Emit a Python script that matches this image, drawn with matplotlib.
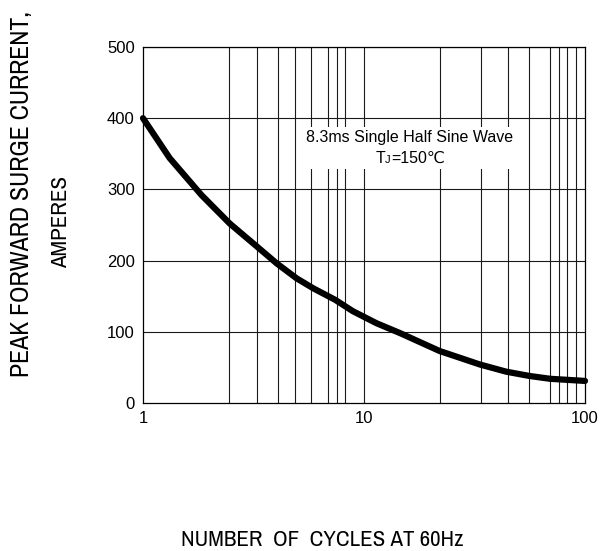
import matplotlib
matplotlib.use("Agg")
import matplotlib.pyplot as plt
from matplotlib.offsetbox import TextArea, HPacker, VPacker, AnnotationBbox

# ---- data ----
cycles = [1, 1.32, 1.84, 2.47, 3.27, 4.03, 4.96, 5.9, 7.4, 8.9, 11.4, 14.6, 22, 33.5, 44, 56, 69.5, 100]
current = [400, 344, 292, 252, 220, 196, 175, 161, 145, 129, 112, 98, 73, 54, 44, 38, 34, 31]
x_ticks = [1, 10, 100]
x_tick_labels = ["1", "10", "100"]
y_ticks = [0, 100, 200, 300, 400, 500]
grid_cycles = [2.45, 3.28, 4.08, 4.87, 5.75, 6.87, 7.55, 8.2,
               22, 33.8, 44.8, 55.8, 69.5, 76.3, 82.9, 91]

FAM = ["Liberation Sans", "DejaVu Sans"]
NARROW = ["Archivo Narrow", "Liberation Sans", "DejaVu Sans"]
plt.rcParams["font.family"] = FAM

fig = plt.figure(figsize=(6.03, 5.51), dpi=100)
ax = fig.add_axes([143 / 603, 1 - 403 / 551, 442 / 603, 356 / 551])
ax.set_xscale("log")
ax.set_xlim(1, 100)
ax.set_ylim(0, 500)

gc = "#1a1a1a"
for g in grid_cycles + [10]:
    ax.axvline(g, color=gc, lw=0.8, zorder=1)
for yv in y_ticks[1:]:
    ax.axhline(yv, color=gc, lw=0.8, zorder=1)

ax.plot(cycles, current, color="black", lw=4.5, solid_capstyle="round",
        solid_joinstyle="round", zorder=5, clip_on=False)

ax.set_xticks(x_ticks)
ax.set_xticklabels(x_tick_labels)
ax.xaxis.set_minor_locator(matplotlib.ticker.NullLocator())
ax.set_yticks(y_ticks)
ax.tick_params(length=0, labelsize=12, pad=6)
for s in ax.spines.values():
    s.set_linewidth(0.9)

# annotation box
l1 = TextArea("8.3ms Single Half Sine Wave", textprops=dict(size=11.5, family=FAM))
t = TextArea("T", textprops=dict(size=11.5, family=FAM))
j = TextArea("J", textprops=dict(size=8, family=FAM))
rest = TextArea("=150℃", textprops=dict(size=11.5, family=FAM))
l2 = HPacker(children=[t, j, rest], align="baseline", pad=0, sep=0)
box = VPacker(children=[l1, l2], align="center", pad=0, sep=4)
ab = AnnotationBbox(box, (410 / 603, 1 - 148 / 551), xycoords="figure fraction",
                    frameon=True, pad=0.25,
                    bboxprops=dict(facecolor="white", edgecolor="none"), zorder=4)
ax.add_artist(ab)

fig.text(22 / 603, 1 - 194 / 551, "PEAK FORWARD SURGE CURRENT,", rotation=90,
         ha="center", va="center", size=18.6, family=NARROW)
fig.text(61 / 603, 1 - 222 / 551, "AMPERES", rotation=90,
         ha="center", va="center", size=16.5, family=NARROW)
fig.text(322 / 603, 1 - 540 / 551, "NUMBER  OF  CYCLES AT 60Hz",
         ha="center", va="center", size=16.5, family=NARROW)

fig.savefig("out.png", dpi=100)
